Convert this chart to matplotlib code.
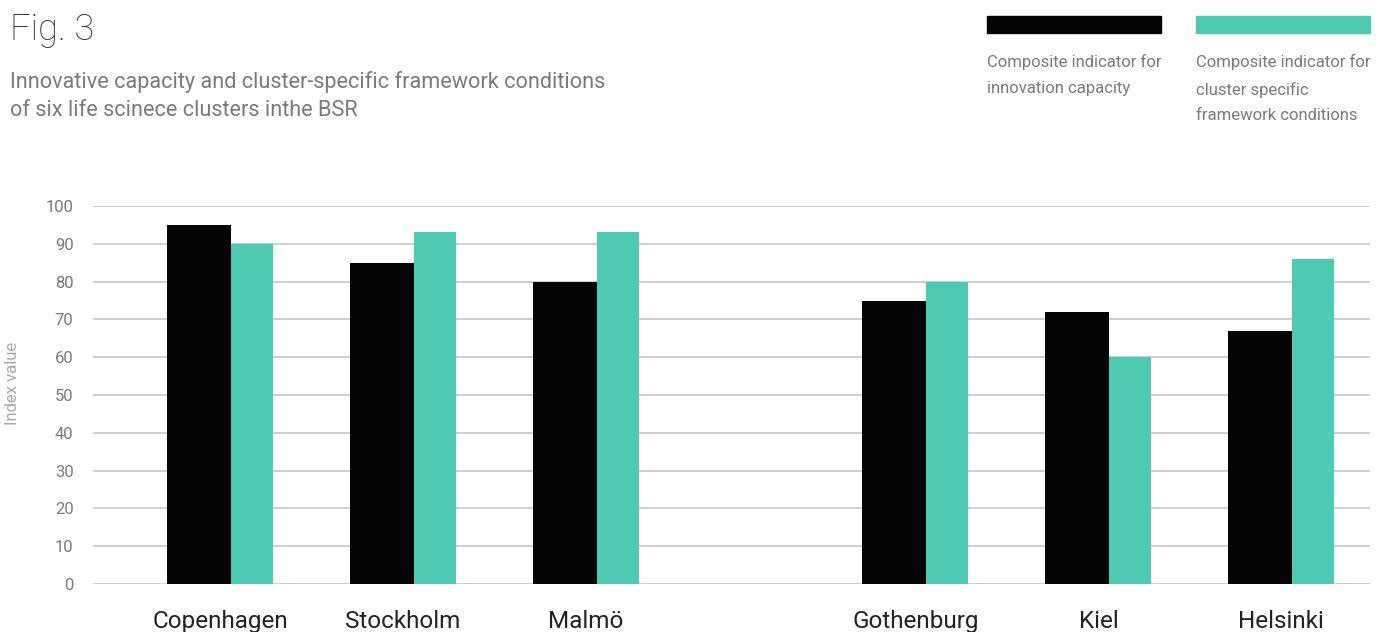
import numpy as np
import matplotlib.pyplot as plt
from matplotlib.patches import Rectangle

plt.rcParams['font.family'] = ['Roboto', 'DejaVu Sans']

clusters = ['Copenhagen', 'Stockholm', 'Malmö', 'Gothenburg', 'Kiel', 'Helsinki']
innovation_capacity = [95, 85, 80, 75, 72, 67]
framework_conditions = [90, 93, 93, 80, 60, 86]
legend_labels = ['Composite indicator for\ninnovation capacity',
                 'Composite indicator for\ncluster specific\nframework conditions']
yticks = list(range(0, 101, 10))

BLACK = '#050505'
TEAL = '#4ecab3'
GREY = '#7a7a7a'

# first three clusters, a gap, then the other three
pos = np.arange(len(clusters), dtype=float)
pos[3:] += 0.8
w_black, w_teal = 0.35, 0.23

fig = plt.figure(figsize=(13.86, 6.32), dpi=100)
ax = fig.add_axes([93 / 1386, 1 - 584 / 632, (1370 - 93) / 1386, (584 - 206) / 632])

# black bar to the left of each position, teal bar to the right
ax.bar(pos, innovation_capacity, width=-w_black, align='edge', color=BLACK, zorder=3)
ax.bar(pos, framework_conditions, width=w_teal, align='edge', color=TEAL, zorder=2)

ax.set_ylim(0, 100)
ax.set_xlim(-0.754, 6.224)
ax.set_yticks(yticks)
ax.yaxis.grid(True, color='#cfcfcf', linewidth=1.4, zorder=0)
ax.set_axisbelow(True)
for s in ax.spines.values():
    s.set_visible(False)
ax.tick_params(axis='y', length=0, pad=14, labelsize=12, labelcolor=GREY)
ax.tick_params(axis='x', length=0, pad=19, labelsize=17.5, labelcolor='#222222')
ax.set_xticks(pos + (w_teal - w_black) / 2)
ax.set_xticklabels(clusters)
ax.set_ylabel('Index value', fontsize=12, color='#a8a8a8')
ax.yaxis.set_label_coords(-0.057, 0.53)

fig.text(10 / 1386, 1 - 30 / 632, 'Fig. 3', fontsize=26, color='#333333',
         va='center', ha='left', fontweight='light')
fig.text(10 / 1386, 1 - 96 / 632,
         'Innovative capacity and cluster-specific framework conditions\nof six life scinece clusters inthe BSR',
         fontsize=15.6, color=GREY, va='center', ha='left', linespacing=1.38)

# legend swatches and captions
for x0, col, lab in [(987, BLACK, legend_labels[0]), (1196, TEAL, legend_labels[1])]:
    fig.add_artist(Rectangle((x0 / 1386, 1 - 33 / 632), 174 / 1386, 17 / 632,
                             transform=fig.transFigure, color=col))
    fig.text(x0 / 1386, 1 - 54 / 632, lab, fontsize=12, color=GREY,
             va='top', ha='left', linespacing=1.88)

fig.savefig('out.png', dpi=100)
